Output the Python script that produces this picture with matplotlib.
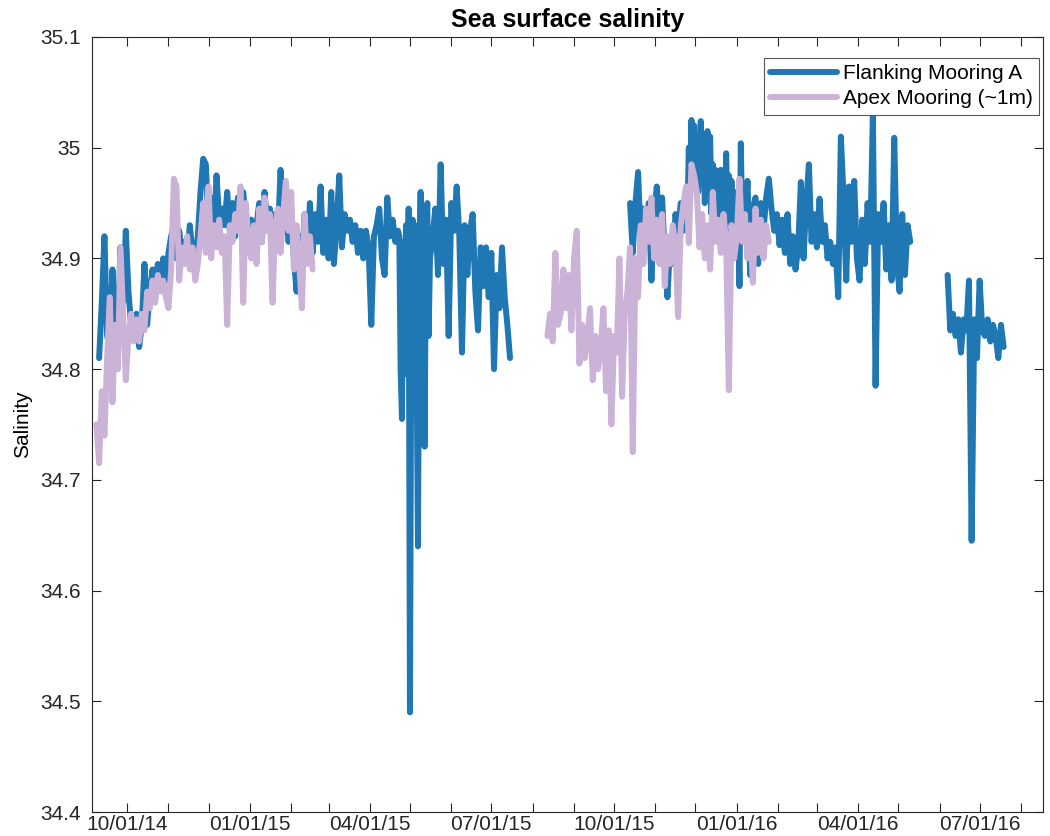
import matplotlib
matplotlib.use("Agg")
import matplotlib.pyplot as plt
import matplotlib.dates as mdates
from matplotlib.ticker import FuncFormatter
import numpy as np
import pandas as pd

plt.rcParams['font.family'] = ['Liberation Sans', 'DejaVu Sans']

# ---------------- data ----------------
# Flanking Mooring A, segment 1 (2-day samples)
flank1a_start = "2014-09-10"
flank1a_vals = [
    34.81, 34.86, 34.92, 34.83, 34.82, 34.89, 34.84, 34.83, 34.91, 34.86,
    34.925, 34.87, 34.84, 34.83, 34.85, 34.82, 34.84, 34.895, 34.84, 34.87,
    34.89, 34.87, 34.895, 34.875, 34.90, 34.88, 34.905, 34.92, 34.93, 34.90,
    34.925, 34.905, 34.915, 34.90, 34.93, 34.905, 34.90, 34.92, 34.96, 34.99,
    34.985, 34.93, 34.955, 34.92, 34.975, 34.935, 34.945, 34.93, 34.96, 34.925,
    34.95, 34.92, 34.955, 34.925, 34.96, 34.935, 34.915, 34.935, 34.91, 34.93,
    34.95, 34.915, 34.96, 34.93, 34.945, 34.925, 34.94, 34.92, 34.98, 34.925,
    34.95, 34.915, 34.94, 34.90, 34.87, 34.92, 34.89, 34.94, 34.90, 34.95,
    34.905, 34.94, 34.915, 34.965, 34.905, 34.935, 34.90, 34.96, 34.895, 34.93,
    34.975, 34.91, 34.94, 34.925, 34.935, 34.915, 34.93, 34.905, 34.925, 34.90,
    34.925, 34.91, 34.84, 34.92, 34.93, 34.945, 34.90, 34.885, 34.955, 34.92,
    34.935, 34.915, 34.925,
]
# daily samples through the fresh event
flank1b_start = "2015-04-23"
flank1b_vals = [
    34.92, 34.80, 34.755, 34.915, 34.80, 34.93, 34.795, 34.945, 34.49, 34.85,
    34.935, 34.79, 34.93, 34.80, 34.64, 34.90, 34.96, 34.80, 34.90, 34.73,
    34.93, 34.95, 34.83, 34.90,
]
flank1c_start = "2015-05-18"
flank1c_vals = [
    34.92, 34.945, 34.885, 34.985, 34.895,
    34.935, 34.83, 34.95, 34.925, 34.965, 34.92, 34.815, 34.93, 34.885, 34.925,
    34.94, 34.87, 34.835, 34.91, 34.875, 34.91, 34.865, 34.905, 34.80, 34.885,
    34.855, 34.91, 34.865, 34.84, 34.81,
]
# segment 2
flank2a_start = "2015-10-13"
flank2a_vals = [
    34.95, 34.905, 34.95, 34.978, 34.915, 34.945, 34.915, 34.95, 34.88, 34.94,
    34.965, 34.935, 34.955, 34.90, 34.865, 34.915, 34.895, 34.94, 34.925, 34.95,
    34.925,
]
flank2b_start = "2015-11-23"
flank2b_vals = [
    34.93, 34.96, 34.94, 35.00, 34.97, 35.025, 34.98, 35.02, 34.975, 35.01,
    34.96, 34.995, 35.024, 34.97, 35.00, 34.95, 34.99, 35.015, 34.96, 35.01,
    34.94, 34.985, 34.93, 34.98, 34.94, 34.975, 34.935, 34.98, 34.945, 34.97,
    34.93, 34.995, 34.935, 34.975, 34.92, 34.97, 34.925, 34.96, 34.92, 34.955,
    34.93, 34.875, 35.004, 34.93, 34.965,
]
flank2c_start = "2016-01-07"
flank2c_vals = [
    34.925, 34.97, 34.885, 34.945, 34.955, 34.895, 34.95,
    34.925, 34.955, 34.972, 34.945, 34.925, 34.94, 34.912, 34.935, 34.905, 34.94,
    34.895, 34.92, 34.89, 34.91, 34.969, 34.90, 34.95, 34.985, 34.915, 34.94,
    34.91, 34.954, 34.915, 34.93, 34.90, 34.915, 34.895, 34.91, 34.865, 35.01,
    34.955, 34.88, 34.965, 34.915, 34.97, 34.90, 34.88, 34.935, 34.895, 34.95,
    34.915, 35.03, 34.785, 34.94, 34.915, 34.95, 34.89, 34.93, 34.88, 35.009,
    34.895, 34.87, 34.94, 34.885, 34.93, 34.915,
]
# segment 3
flank3_start = "2016-06-07"
flank3_vals = [
    34.885, 34.835, 34.85, 34.83, 34.845, 34.815, 34.845, 34.835, 34.88, 34.645,
    34.845, 34.81, 34.88, 34.835, 34.83, 34.845, 34.825, 34.84, 34.83, 34.81,
    34.84, 34.82,
]
# Apex Mooring (~1 m), 2-day samples
apex1_start = "2014-09-08"
apex1_vals = [
    34.75, 34.715, 34.78, 34.74, 34.81, 34.865, 34.77, 34.84, 34.80, 34.91,
    34.85, 34.79, 34.83, 34.85, 34.825, 34.845, 34.825, 34.85, 34.835, 34.87,
    34.855, 34.88, 34.86, 34.885, 34.87, 34.88, 34.865, 34.855, 34.89, 34.972,
    34.965, 34.88, 34.91, 34.895, 34.92, 34.89, 34.91, 34.88, 34.895, 34.92,
    34.95, 34.905, 34.965, 34.90, 34.93, 34.91, 34.935, 34.905, 34.92, 34.84,
    34.93, 34.915, 34.94, 34.925, 34.965, 34.86, 34.95, 34.915, 34.90, 34.93,
    34.895, 34.945, 34.915, 34.955, 34.925, 34.94, 34.86, 34.93, 34.945, 34.905,
    34.94, 34.97, 34.925, 34.96, 34.89, 34.93, 34.895, 34.855, 34.94, 34.895,
    34.92, 34.89,
]
apex2_start = "2015-08-12"
apex2_vals = [
    34.83, 34.85, 34.825, 34.905, 34.84, 34.85, 34.89, 34.855, 34.885, 34.835,
    34.90, 34.925, 34.805, 34.84, 34.81, 34.83, 34.855, 34.79, 34.83, 34.80,
    34.82, 34.855, 34.78, 34.835, 34.75, 34.83, 34.815, 34.90, 34.775, 34.85,
    34.87, 34.91, 34.725, 34.90, 34.865, 34.93, 34.895, 34.945, 34.915, 34.955,
    34.90, 34.935, 34.895, 34.94, 34.875, 34.92, 34.895, 34.93, 34.91, 34.847,
    34.93, 34.95, 34.965, 34.914, 34.985, 34.975, 34.96, 34.91, 34.94, 34.90,
    34.93, 34.89, 34.96, 34.915, 34.935, 34.905, 34.94, 34.915, 34.781, 34.93,
    34.90, 34.92, 34.972, 34.915, 34.94, 34.90, 34.93, 34.878, 34.945, 34.905,
    34.935, 34.90, 34.93, 34.915,
]

legend_labels = ["Flanking Mooring A", "Apex Mooring (~1m)"]
yticks = [34.4, 34.5, 34.6, 34.7, 34.8, 34.9, 35.0, 35.1]


def build(segments):
    """segments: (start, step_days, values, gap_after)"""
    parts = []
    for start, step, vals, gap in segments:
        idx = pd.date_range(start, periods=len(vals), freq=f"{step}D")
        parts.append(pd.Series(vals, index=idx))
        if gap:
            parts.append(pd.Series([np.nan],
                                   index=[idx[-1] + pd.Timedelta(hours=12)]))
    return pd.concat(parts)


flank = build([
    (flank1a_start, 2, flank1a_vals, False),
    (flank1b_start, 1, flank1b_vals, False),
    (flank1c_start, 2, flank1c_vals, True),
    (flank2a_start, 2, flank2a_vals, False),
    (flank2b_start, 1, flank2b_vals, False),
    (flank2c_start, 2, flank2c_vals, True),
    (flank3_start, 2, flank3_vals, True),
])
apex = build([
    (apex1_start, 2, apex1_vals, True),
    (apex2_start, 2, apex2_vals, True),
])

BLUE = "#1f77b4"
PURPLE = "#cbb3d7"
AX_COL = "#262626"
LW = 4.3

fig = plt.figure(figsize=(10.5, 8.36), dpi=100)
ax = fig.add_axes([92 / 1050, 24 / 836, (1043 - 92) / 1050, (812 - 37) / 836])

ax.plot(flank.index, flank.values, color=BLUE, lw=LW,
        solid_joinstyle="round", solid_capstyle="round",
        label=legend_labels[0])
ax.plot(apex.index, apex.values, color=PURPLE, lw=LW,
        solid_joinstyle="round", solid_capstyle="round",
        label=legend_labels[1])

ax.set_xlim(pd.Timestamp("2014-09-04 16:00"), pd.Timestamp("2016-08-17 12:00"))
ax.set_ylim(34.4, 35.1)
ax.set_yticks(yticks)
ax.yaxis.set_major_formatter(FuncFormatter(lambda v, p: f"{v:g}"))

ax.xaxis.set_major_locator(mdates.MonthLocator(bymonth=[1, 4, 7, 10]))
ax.xaxis.set_minor_locator(mdates.MonthLocator())
ax.xaxis.set_major_formatter(mdates.DateFormatter("%m/%d/%y"))

for sp in ax.spines.values():
    sp.set_color(AX_COL)
    sp.set_linewidth(0.8)

ax.tick_params(axis="both", which="both", direction="in", top=True,
               right=True, length=6.5, width=0.8, color=AX_COL,
               labelsize=15, labelcolor="#262626")
ax.tick_params(axis="x", which="major", pad=2)
ax.tick_params(axis="y", which="major", pad=8)

ax.set_title("Sea surface salinity", fontsize=18, fontweight="bold", pad=7)
ax.set_ylabel("Salinity", fontsize=15, labelpad=6)

leg = ax.legend(loc="upper right", bbox_to_anchor=(0.9958, 0.973),
                fontsize=15, frameon=True, fancybox=False, framealpha=1,
                edgecolor="#555555", handlelength=3.2, handletextpad=0.3,
                labelspacing=0.3, borderpad=0.3, borderaxespad=0)
leg.get_frame().set_linewidth(0.8)
for line in leg.get_lines():
    line.set_linewidth(4.3)

fig.savefig("out.png", dpi=100, facecolor="white")
